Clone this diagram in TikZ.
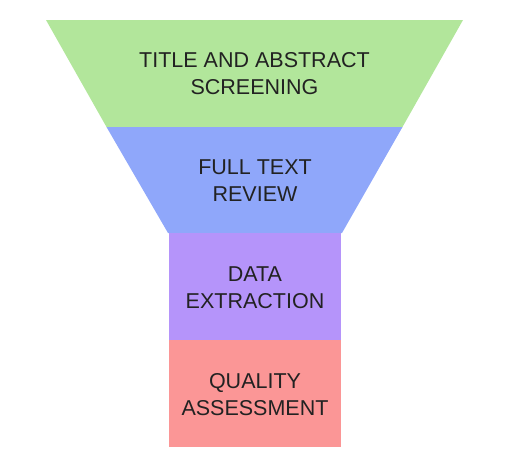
\documentclass[tikz,border=0pt]{standalone}
\usepackage{fontspec}
\setmainfont{Liberation Sans}
\definecolor{cgreen}{RGB}{178,230,155}
\definecolor{cblue}{RGB}{143,167,250}
\definecolor{cpurple}{RGB}{181,148,250}
\definecolor{cred}{RGB}{251,150,150}
\definecolor{ctext}{RGB}{34,34,34}
\begin{document}
\begin{tikzpicture}[x=1pt,y=-1pt,
  lbl/.style={align=center,text=ctext,font=\fontsize{21.5}{27}\selectfont,inner sep=0pt}]
\useasboundingbox (0,0) rectangle (512,472);
% stages
\fill[cgreen] (46,20) -- (463,20) -- (402.5,127) -- (106.5,127) -- cycle;
\fill[cblue] (106.5,127) -- (402.5,127) -- (342,233) -- (168,233) -- cycle;
\fill[cpurple] (169,233) rectangle (341,340);
\fill[cred] (169,340) rectangle (341,447);
% labels
\node[lbl] (title) at (254.5,74) {TITLE AND ABSTRACT\\SCREENING};
\node[lbl] (full) at (255,181) {FULL TEXT\\REVIEW};
\node[lbl] (data) at (255,287.5) {DATA\\EXTRACTION};
\node[lbl] (quality) at (255,395) {QUALITY\\ASSESSMENT};
\end{tikzpicture}
\end{document}
